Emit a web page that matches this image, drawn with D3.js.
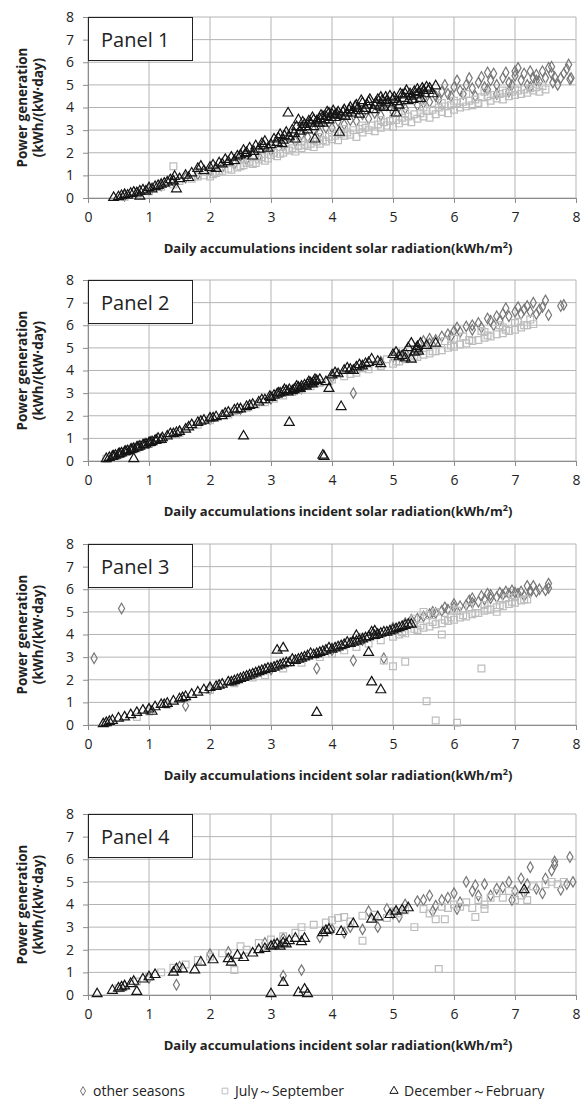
<!DOCTYPE html>
<html>
<head>
<meta charset="utf-8">
<script src="https://cdn.jsdelivr.net/npm/d3@7"></script>
<style>
  body { margin: 0; background: #fff; }
  text { font-family: "Open Sans", "Noto Sans", sans-serif; fill: #222; }
</style>
</head>
<body>
<div id="container"></div>
<script>
// data
const panelNames = ['Panel 1', 'Panel 2', 'Panel 3', 'Panel 4']
const xTicks = [0, 1, 2, 3, 4, 5, 6, 7, 8]
const yTicks = [0, 1, 2, 3, 4, 5, 6, 7, 8]
const seriesNames = ['other seasons', 'July～September', 'December～February']

// panel 1
const p1Other = [[0.6,0.1],[0.8,0.25],[1.0,0.4],[1.2,0.55],[1.4,0.75],[1.6,0.9],[1.8,1.05],[2.0,1.2],[2.2,1.35],[2.4,1.5],[2.6,1.7],[2.8,1.85],[3.0,2.1],[3.2,2.3],[3.4,2.5],[3.6,2.7],[3.8,2.9],[4.0,3.1],[4.2,3.25],[4.4,3.4],[4.6,3.5],[4.8,3.65],[5.0,3.8],[5.2,3.95],[5.4,4.1],[5.5,4.4],[5.6,4.25],[5.7,4.5],[5.8,4.7],[5.9,4.6],[6.0,4.9],[6.05,5.2],[6.1,4.75],[6.2,5.0],[6.25,5.3],[6.3,4.85],[6.4,5.1],[6.45,5.35],[6.5,4.9],[6.6,5.2],[6.65,5.5],[6.7,5.0],[6.8,5.3],[6.85,5.55],[6.9,5.1],[7.0,5.4],[7.05,5.75],[7.1,5.2],[7.15,5.5],[7.2,5.0],[7.25,5.6],[7.3,5.3],[7.35,5.45],[7.4,5.15],[7.45,5.6],[7.5,5.3],[7.55,5.75],[7.6,5.5],[7.62,5.1],[7.7,5.0],[7.75,5.3],[7.85,5.7],[7.88,5.9],[7.9,5.25],[7.92,5.3],[6.9,4.7],[6.7,4.6],[6.35,4.5],[7.25,4.9],[5.3,4.5],[4.9,4.1],[4.5,3.7],[4.1,3.4],[3.7,3.0],[3.3,2.7],[2.9,2.2],[2.5,1.85],
  [3.5,2.8],[3.9,3.1],[4.3,3.45],[4.7,3.75],[5.1,4.05],[5.5,4.2],[5.75,4.35],[5.95,4.5],[6.15,4.6],[6.55,4.8],[6.95,5.0],[7.35,5.2],[7.65,5.35],[7.8,5.5],[5.85,5.0],[6.55,5.55],[7.6,5.8],[7.0,5.6]]
const p1Summer = [[0.6,0.05],[0.8,0.15],[1.0,0.3],[1.2,0.5],[1.4,1.4],[1.4,0.6],[1.5,0.75],[1.7,0.85],[1.9,1.0],[2.0,0.95],[2.1,1.1],[2.2,1.2],[2.3,1.3],[2.5,1.4],[2.6,1.55],[2.7,1.5],[2.8,1.7],[2.9,1.65],[3.0,1.9],[3.1,1.85],[3.2,2.0],[3.3,2.1],[3.4,2.05],[3.5,2.2],[3.6,2.3],[3.7,2.25],[3.8,2.4],[3.9,2.5],[4.0,2.6],[4.1,2.55],[4.2,2.75],[4.3,2.8],[4.4,2.7],[4.5,2.9],[4.6,3.0],[4.7,2.95],[4.8,3.1],[4.9,3.2],[5.0,3.15],[5.1,3.3],[5.2,3.4],[5.3,3.35],[5.4,3.5],[5.5,3.6],[5.6,3.55],[5.7,3.7],[5.8,3.8],[5.9,3.75],[6.0,3.9],[6.1,4.0],[6.2,4.05],[6.3,4.1],[6.4,4.2],[6.5,4.15],[6.6,4.3],[6.7,4.4],[6.8,4.35],[6.9,4.5],[7.0,4.55],[7.1,4.6],[7.2,4.65],[7.3,4.75],[7.4,4.7],[7.5,4.8],[6.2,4.6],[6.5,4.7],[6.8,4.75],[5.5,4.0],[5.0,3.5],[4.5,3.2],[4.0,2.9],[3.5,2.5],[3.0,2.2],[2.5,1.7],[6.0,4.3],[7.0,4.8],[5.8,4.2],
  [1.8,0.95],[2.05,1.05],[2.15,1.2],[2.35,1.25],[2.45,1.35],[2.55,1.45],[2.65,1.6],[2.75,1.55],[2.85,1.8],[2.95,1.75],[3.05,2.0],[3.15,1.95],[3.25,2.15],[3.35,2.2],[3.45,2.3],[3.55,2.35],[3.65,2.4],[3.75,2.5],[3.85,2.55],[3.95,2.7],[4.05,2.75],[4.15,2.85],[4.25,2.9],[4.35,3.0],[4.45,3.05],[4.55,3.1],[4.65,3.2],[4.75,3.25],[4.85,3.35],[4.95,3.4],[5.05,3.45],[5.15,3.55],[5.25,3.6],[5.35,3.7],[5.45,3.75],[5.55,3.85],[5.65,3.9],[5.75,4.0],[5.85,4.05],[5.95,4.1],[6.05,4.2],[6.15,4.25],[6.25,4.3],[6.35,4.35],[6.45,4.45],[6.55,4.5],[6.65,4.55],[6.75,4.6],[6.85,4.65],[6.95,4.7],[7.05,4.75],[7.15,4.8],[7.25,4.85],[7.35,4.9],[7.45,4.95],[4.2,3.05],[4.8,3.45],[5.2,3.75],[3.8,2.7]]
const p1Winter = [[0.42,0.02],[0.5,0.05],[0.55,0.1],[0.6,0.15],[0.65,0.12],[0.7,0.2],[0.75,0.25],[0.8,0.22],[0.85,0.3],[0.85,0.08],[0.9,0.35],[0.95,0.3],[1.0,0.45],[1.05,0.4],[1.1,0.5],[1.15,0.55],[1.2,0.6],[1.25,0.65],[1.3,0.7],[1.35,0.8],[1.4,0.75],[1.42,0.95],[1.45,0.4],[1.5,0.85],[1.6,1.0],[1.65,0.9],[1.7,1.1],[1.8,1.3],[1.85,1.4],[1.9,1.2],[2.0,1.35],[2.05,1.45],[2.1,1.3],[2.2,1.5],[2.25,1.7],[2.3,1.6],[2.35,1.8],[2.4,1.65],[2.5,1.9],[2.55,2.1],[2.6,2.0],[2.65,2.2],[2.7,1.85],[2.75,2.3],[2.8,2.15],[2.85,2.4],[2.9,2.5],[2.95,2.2],[3.05,2.6],[3.1,2.45],[3.15,2.8],[3.2,2.55],[3.25,2.9],[3.28,3.75],[3.3,2.7],[3.35,3.0],[3.4,2.6],[3.45,3.45],[3.5,3.1],[3.55,3.25],[3.6,3.0],[3.65,3.3],[3.7,3.15],[3.72,2.6],[3.75,3.4],[3.8,3.5],[3.85,3.3],[3.9,3.6],[3.95,3.45],[4.0,3.7],[4.05,3.55],[4.1,3.8],[4.12,2.9],[4.15,3.65],[4.2,3.9],[4.25,3.75],[4.3,4.0],[4.35,3.85],[4.4,4.1],[4.45,3.7],[4.5,4.2],[4.55,3.95],[4.6,4.25],[4.7,4.1],[4.75,4.35],[4.8,4.45],[4.85,4.0],[4.9,4.3],[4.95,4.5],[5.0,4.35],[5.05,3.75],[5.1,4.1],[5.15,4.55],[5.2,4.6],[5.25,4.3],[5.3,4.5],[5.35,4.7],[5.4,4.8],[5.45,4.4],[5.5,4.75],[5.55,4.9],[5.6,4.85],[5.65,4.6],[5.7,4.95],[3.85,3.6],[3.95,3.75],[4.05,3.65],[3.7,3.45],
  [2.15,1.55],[2.45,1.85],[2.58,1.95],[2.72,2.05],[2.88,2.3],[3.0,2.35],[3.12,2.65],[3.18,2.4],[3.22,2.75],[3.38,2.85],[3.42,3.15],[3.48,2.95],[3.52,3.35],[3.58,3.15],[3.62,3.4],[3.68,3.55],[3.78,3.3],[3.82,3.65],[3.88,3.45],[3.92,3.8],[3.98,3.55],[4.02,3.85],[4.08,3.7],[4.18,3.8],[4.22,3.6],[4.28,3.9],[4.32,3.75],[4.38,4.05],[4.42,3.95],[4.48,4.3],[4.52,3.85],[4.58,4.1],[4.62,4.35],[4.68,3.9],[4.72,4.2],[4.78,4.05],[4.82,4.3],[4.88,4.45],[4.92,4.2],[4.98,4.0],[5.02,4.45],[5.08,4.25],[5.12,4.6],[5.18,4.4],[5.22,4.75],[5.28,4.6],[5.32,4.35],[5.38,4.55],[5.42,4.65],[5.48,4.85],[5.52,4.6],[5.58,4.75]]

// panel 2
const p2Other = [[4.35,3.0],[4.8,4.4],[5.0,4.6],[5.2,4.8],[5.4,5.0],[5.5,5.3],[5.6,5.4],[5.7,5.35],[5.8,5.5],[5.9,5.6],[6.0,5.75],[6.05,5.9],[6.1,5.7],[6.2,5.95],[6.3,6.0],[6.4,6.1],[6.45,5.9],[6.55,6.3],[6.6,6.2],[6.7,6.4],[6.75,6.2],[6.8,6.5],[6.85,6.75],[6.9,6.4],[7.0,6.6],[7.05,6.8],[7.1,6.5],[7.15,6.7],[7.2,6.85],[7.25,6.6],[7.3,7.0],[7.35,6.5],[7.4,6.7],[7.5,7.1],[7.55,6.45],[7.8,6.9],[7.75,6.85],[7.45,6.8],[6.65,6.0],[6.3,5.8],[5.95,5.5],[5.6,5.2],[5.1,4.7],[4.5,4.2],[4.0,3.7],[3.5,3.2],[3.0,2.75],[2.5,2.3],[2.0,1.85],[1.5,1.3],[1.0,0.8]]
const p2Summer = [[0.3,0.1],[0.5,0.25],[0.8,0.55],[1.0,0.75],[1.2,0.95],[1.5,1.25],[1.8,1.6],[2.0,1.8],[2.3,2.05],[2.6,2.35],[2.9,2.6],[3.2,2.9],[3.5,3.15],[3.8,3.45],[4.0,3.6],[4.2,3.75],[4.4,3.9],[4.6,4.05],[4.8,4.2],[5.0,4.3],[5.1,4.4],[5.2,4.5],[5.3,4.55],[5.4,4.6],[5.5,4.7],[5.6,4.75],[5.7,4.85],[5.8,4.9],[5.9,5.0],[6.0,5.05],[6.1,5.15],[6.2,5.2],[6.3,5.3],[6.4,5.35],[6.5,5.45],[6.6,5.5],[6.7,5.6],[6.8,5.65],[6.9,5.75],[7.0,5.8],[7.1,5.9],[7.2,6.0],[7.3,6.05],[6.0,5.4],[6.5,5.7],[7.0,6.1],[5.5,5.0],[6.8,5.9],[7.25,6.25],[4.5,4.1],
  [2.4,2.2],[2.75,2.5],[3.05,2.75],[3.35,3.05],[3.65,3.3],[3.95,3.55],[4.3,3.85],[4.7,4.15],[5.05,4.4],[5.35,4.65],[5.65,4.85],[5.95,5.1],[6.25,5.35],[6.55,5.55],[6.85,5.8],[7.15,6.0],[6.15,5.5],[6.45,5.75],[6.75,6.0],[7.05,6.15],[5.85,5.3],[5.25,4.9],[4.9,4.5]]
const p2Winter = [[0.3,0.1],[0.35,0.15],[0.4,0.2],[0.45,0.25],[0.5,0.3],[0.55,0.35],[0.6,0.4],[0.65,0.45],[0.7,0.5],[0.75,0.1],[0.75,0.55],[0.8,0.6],[0.85,0.65],[0.9,0.7],[0.95,0.75],[1.0,0.8],[1.05,0.85],[1.1,0.9],[1.15,1.0],[1.2,0.95],[1.3,1.1],[1.4,1.2],[1.5,1.3],[1.6,1.4],[1.7,1.6],[1.8,1.7],[1.9,1.8],[2.0,1.9],[2.1,1.95],[2.2,2.0],[2.3,2.15],[2.4,2.25],[2.5,2.3],[2.55,1.1],[2.6,2.4],[2.7,2.5],[2.8,2.6],[2.9,2.7],[3.0,2.8],[3.05,2.9],[3.1,2.95],[3.15,3.0],[3.2,3.05],[3.25,3.1],[3.3,1.7],[3.3,3.15],[3.35,3.1],[3.4,3.2],[3.45,3.25],[3.5,3.3],[3.55,3.35],[3.6,3.4],[3.65,3.45],[3.7,3.5],[3.75,3.55],[3.8,3.6],[3.85,0.25],[3.87,0.2],[3.9,3.5],[3.95,3.2],[4.0,3.8],[4.05,3.9],[4.1,3.85],[4.15,2.4],[4.2,4.0],[4.3,4.05],[4.4,4.15],[4.5,4.2],[4.6,4.35],[4.65,4.5],[4.75,4.4],[4.8,4.3],[5.0,4.7],[5.05,4.8],[5.1,4.6],[5.2,4.55],[5.3,4.5],[5.35,4.8],[5.4,5.05],[5.45,5.2],[5.55,5.1],[5.7,5.2],[5.3,5.2],
  [0.42,0.22],[0.52,0.32],[0.62,0.42],[0.72,0.52],[0.82,0.62],[0.92,0.72],[1.02,0.82],[1.12,0.92],[1.22,1.02],[3.28,3.05],[3.38,3.15],[3.48,3.2],[3.58,3.3],[3.68,3.4],[3.72,3.6],[3.62,3.5],[3.42,3.3],[3.22,3.15],[3.12,3.0],[2.98,2.85],[2.85,2.7],[2.65,2.45],[2.45,2.3],[2.25,2.1],[2.05,1.9],[1.85,1.75],[1.65,1.5],[1.45,1.25],[1.35,1.2],[4.45,4.25],[4.55,4.3],[4.25,4.1],[4.35,4.0],[5.15,4.65],[5.25,5.0],[5.38,4.95],[5.42,4.85]]

// panel 3
const p3Other = [[0.1,2.95],[0.55,5.15],[1.6,0.85],[3.75,2.5],[4.35,2.85],[4.85,2.95],[5.0,4.3],[5.2,4.5],[5.4,4.7],[5.5,4.8],[5.6,4.9],[5.7,4.95],[5.8,5.05],[5.9,5.1],[6.0,5.2],[6.1,5.25],[6.2,5.3],[6.3,5.4],[6.4,5.45],[6.5,5.55],[6.55,5.8],[6.6,5.6],[6.7,5.65],[6.8,5.75],[6.85,5.9],[6.9,5.8],[7.0,5.85],[7.1,5.9],[7.15,5.7],[7.2,6.15],[7.25,5.95],[7.3,6.15],[7.35,5.9],[7.55,6.25],[7.55,6.05],[5.3,4.65],[6.25,5.5],[4.5,3.75],[4.0,3.3],[3.0,2.45],[2.0,1.6],[1.0,0.7],
  [6.0,5.35],[6.3,5.6],[6.6,5.75],[6.95,5.95],[7.05,5.8],[7.25,5.85],[5.65,5.0],[5.85,5.2],[6.45,5.7],[6.75,5.85],[7.4,6.0],[7.5,5.95]]
const p3Summer = [[0.3,0.1],[0.8,0.35],[1.0,0.6],[1.3,0.9],[1.6,1.15],[2.0,1.55],[2.4,1.85],[2.7,2.1],[2.9,2.2],[3.2,2.5],[3.5,2.75],[3.8,3.0],[4.0,3.15],[4.2,3.3],[4.4,3.45],[4.6,3.6],[4.8,3.75],[4.85,2.85],[5.0,2.6],[5.0,3.9],[5.1,4.0],[5.2,2.8],[5.2,4.05],[5.3,4.15],[5.4,4.2],[5.5,4.3],[5.55,1.05],[5.6,4.35],[5.7,0.2],[5.7,4.45],[5.8,4.0],[5.8,4.5],[5.9,4.6],[6.0,4.65],[6.05,0.1],[6.1,4.75],[6.2,4.8],[6.3,4.9],[6.4,4.95],[6.45,2.5],[6.5,5.05],[6.6,5.1],[6.7,5.2],[6.8,5.25],[6.9,5.35],[7.0,5.4],[7.1,5.5],[7.2,5.55],[5.5,5.0],[5.7,5.0],[6.0,5.1],[6.5,5.3],[7.0,5.65],[6.7,5.0],[4.5,3.9],[5.0,4.25],
  [5.15,4.1],[5.35,4.25],[5.45,4.4],[5.65,4.55],[5.85,4.65],[5.95,4.75],[6.15,4.85],[6.35,4.95],[6.55,5.1],[6.75,5.3],[6.95,5.45],[7.15,5.55],[5.35,4.7],[5.55,4.85],[6.05,5.05],[6.25,5.2],[6.85,5.6],[4.3,3.6],[4.7,3.95]]
const p3Winter = [[0.25,0.05],[0.3,0.1],[0.35,0.15],[0.4,0.2],[0.5,0.3],[0.6,0.35],[0.7,0.45],[0.8,0.55],[0.9,0.65],[1.0,0.7],[1.05,0.6],[1.1,0.8],[1.2,0.9],[1.3,0.95],[1.4,1.05],[1.5,1.15],[1.6,1.25],[1.7,1.35],[1.8,1.45],[1.9,1.55],[2.0,1.65],[2.1,1.7],[2.2,1.8],[2.3,1.9],[2.4,1.95],[2.5,2.05],[2.6,2.15],[2.7,2.25],[2.8,2.35],[2.9,2.45],[3.0,2.5],[3.1,2.6],[3.1,3.3],[3.2,3.4],[3.2,2.7],[3.3,2.75],[3.4,2.85],[3.5,2.95],[3.6,3.05],[3.7,3.1],[3.75,0.55],[3.8,3.2],[3.9,3.3],[4.0,3.35],[4.1,3.45],[4.2,3.55],[4.3,3.6],[4.4,3.7],[4.5,3.8],[4.55,3.85],[4.6,3.2],[4.65,1.9],[4.65,4.1],[4.7,3.95],[4.8,1.55],[4.8,4.05],[4.9,4.1],[5.0,4.2],[5.1,4.3],[5.2,4.4],[5.3,4.45],[3.35,2.9],[3.65,3.15],[3.95,3.4],[4.25,3.65],[2.75,2.3],[2.45,2.0],[1.55,1.2],[1.25,0.9],
  [2.15,1.75],[2.35,1.9],[2.55,2.1],[2.65,2.2],[2.85,2.4],[2.95,2.5],[3.05,2.55],[3.15,2.65],[3.25,2.75],[3.45,2.9],[3.55,3.0],[3.75,3.15],[3.85,3.25],[4.05,3.4],[4.15,3.5],[4.35,3.65],[4.45,3.75],[4.75,4.0],[4.85,4.1],[4.95,4.15],[5.05,4.25],[5.15,4.35],[5.25,4.45],[4.6,3.9],[4.4,3.95],[4.7,4.15]]

// panel 4
const p4Other = [[1.45,0.45],[3.2,0.85],[3.5,1.1],[0.6,0.4],[1.0,0.75],[1.5,1.25],[2.0,1.8],[2.3,1.9],[2.9,2.3],[3.2,2.5],[3.8,2.55],[4.0,2.9],[4.2,2.75],[4.3,3.0],[4.5,2.9],[4.6,3.7],[4.75,3.0],[4.9,3.8],[5.0,3.6],[5.2,4.0],[5.4,4.15],[5.5,4.2],[5.6,4.4],[5.7,3.95],[5.8,4.2],[5.9,4.3],[6.0,4.5],[6.05,3.8],[6.1,4.1],[6.2,5.0],[6.3,4.6],[6.35,4.85],[6.4,4.4],[6.5,4.9],[6.6,4.4],[6.7,4.7],[6.8,4.75],[6.9,5.0],[7.0,4.6],[7.1,5.15],[7.15,4.5],[7.2,4.9],[7.25,5.65],[7.35,4.7],[7.45,4.5],[7.5,5.15],[7.6,5.5],[7.65,5.9],[7.65,5.75],[7.75,4.65],[7.85,4.9],[7.9,6.1],[7.95,5.0],[6.95,4.2],[5.65,3.7],[5.1,3.45]]
const p4Summer = [[0.5,0.3],[0.8,0.6],[1.0,0.8],[1.2,1.0],[1.4,1.2],[1.6,1.35],[1.8,1.55],[2.0,1.7],[2.2,1.85],[2.4,1.1],[2.5,2.15],[2.6,2.0],[2.8,2.3],[3.0,2.45],[3.2,2.6],[3.4,2.75],[3.5,3.0],[3.7,3.1],[3.9,3.2],[4.0,3.3],[4.2,3.45],[4.3,3.25],[4.5,2.4],[4.5,3.5],[4.7,3.55],[4.9,3.4],[5.0,3.7],[5.1,3.6],[5.35,3.0],[5.5,3.8],[5.6,3.6],[5.7,3.35],[5.75,1.15],[5.85,3.35],[5.9,3.85],[6.0,4.0],[6.1,3.9],[6.2,4.1],[6.3,3.85],[6.35,3.45],[6.4,4.2],[6.5,4.0],[6.6,4.3],[6.7,4.5],[6.8,4.3],[6.9,4.6],[7.0,4.2],[7.1,4.4],[7.2,4.2],[7.3,4.8],[7.5,4.9],[7.6,5.0],[7.8,5.0],[7.7,4.9],[6.5,3.8],[5.8,3.9],[5.2,3.75],[4.1,3.4]]
const p4Winter = [[0.15,0.05],[0.4,0.2],[0.5,0.3],[0.55,0.35],[0.6,0.4],[0.7,0.5],[0.75,0.6],[0.8,0.15],[0.9,0.7],[1.0,0.8],[1.1,0.9],[1.4,1.0],[1.45,1.15],[1.55,1.15],[1.75,1.1],[1.85,1.45],[2.05,1.55],[2.3,1.6],[2.35,1.45],[2.45,1.75],[2.55,1.65],[2.7,1.85],[2.8,2.0],[2.9,2.05],[3.0,2.15],[3.05,2.2],[3.1,2.25],[3.15,2.15],[3.2,2.3],[3.25,2.25],[3.3,2.4],[3.4,2.5],[3.5,2.35],[3.55,2.5],[3.85,2.75],[3.9,2.85],[3.95,2.9],[4.15,2.8],[4.35,3.15],[4.65,3.35],[4.75,3.45],[4.95,3.55],[5.05,3.7],[5.15,3.75],[5.25,3.85],[7.15,4.65],[3.0,0.05],[3.2,0.55],[3.45,0.1],[3.55,0.25],[3.6,0.05]]

const panels = [
  [p1Other, p1Summer, p1Winter],
  [p2Other, p2Summer, p2Winter],
  [p3Other, p3Summer, p3Winter],
  [p4Other, p4Summer, p4Winter]
]

//layout
const width = 584
const height = 1099
const left = 88
const right = 576
const plotHeight = 181
const panelTops = [17, 280, 544, 814]

const seriesStyle = [
  { type: d3.symbolDiamond, size: 32, color: '#777777' },
  { type: d3.symbolSquare, size: 46, color: '#bdbdbd' },
  { type: d3.symbolTriangle, size: 42, color: '#141414' }
]

const svg = d3.select('#container')
  .append('svg')
  .attr('width', width)
  .attr('height', height)

const xScale = d3.scaleLinear().domain([0, 8]).range([left, right])

panels.forEach((series, p) => {
  const top = panelTops[p]
  const bottom = top + plotHeight
  const yScale = d3.scaleLinear().domain([0, 8]).range([bottom, top])
  const g = svg.append('g').attr('class', 'panel')

  // grid lines
  g.append('g')
    .selectAll('line')
    .data(xTicks)
    .enter()
    .append('line')
    .attr('x1', (d) => xScale(d)).attr('x2', (d) => xScale(d))
    .attr('y1', top).attr('y2', bottom)
    .attr('stroke', '#b4b4b4')

  g.append('g')
    .selectAll('line')
    .data(yTicks)
    .enter()
    .append('line')
    .attr('x1', left).attr('x2', right)
    .attr('y1', (d) => yScale(d)).attr('y2', (d) => yScale(d))
    .attr('stroke', '#b4b4b4')

  // axes
  const xAxis = g.append('g')
    .attr('transform', `translate(0, ${bottom})`)
    .call(d3.axisBottom(xScale).tickValues(xTicks).tickSize(5).tickPadding(9))
  const yAxis = g.append('g')
    .attr('transform', `translate(${left}, 0)`)
    .call(d3.axisLeft(yScale).tickValues(yTicks).tickSize(5).tickPadding(9))

  ;[xAxis, yAxis].forEach((a) => {
    a.select('.domain').attr('stroke', '#8c8c8c')
    a.selectAll('.tick line').attr('stroke', '#8c8c8c')
    a.selectAll('.tick text')
      .style('font-family', '"Open Sans", sans-serif')
      .style('font-size', '14px')
      .attr('fill', '#222')
  })

  // points
  series.forEach((pts, s) => {
    const st = seriesStyle[s]
    const sym = d3.symbol().type(st.type).size(st.size)
    g.append('g')
      .selectAll('path')
      .data(pts)
      .enter()
      .append('path')
      .attr('d', sym)
      .attr('transform', (d) => `translate(${xScale(d[0])}, ${yScale(d[1])})`)
      .attr('fill', 'none')
      .attr('stroke', st.color)
      .attr('stroke-width', 1.2)
  })

  // panel label box
  g.append('rect')
    .attr('x', left + 0.5)
    .attr('y', top + 0.5)
    .attr('width', 104)
    .attr('height', 43)
    .attr('fill', '#fff')
    .attr('stroke', '#222')
  g.append('text')
    .attr('x', left + 13)
    .attr('y', top + 30)
    .style('font-size', '20px')
    .text(panelNames[p])

  // axis titles
  g.append('text')
    .attr('x', (left + right) / 2 + 6)
    .attr('y', bottom + 55)
    .attr('text-anchor', 'middle')
    .style('font-size', '13px')
    .style('font-weight', 'bold')
    .html('Daily accumulations incident solar radiation(kWh/m<tspan dy="-5" font-size="9px">2</tspan><tspan dy="5">)</tspan>')

  const yt = g.append('text')
    .attr('transform', `translate(0, ${(top + bottom) / 2}) rotate(-90)`)
    .attr('text-anchor', 'middle')
    .style('font-size', '13.5px')
    .style('font-weight', 'bold')
  yt.append('tspan').attr('x', 0).attr('y', 27).text('Power generation')
  yt.append('tspan').attr('x', 0).attr('y', 43).text('(kWh/(kW·day)')
})

// legend
const legendX = [83, 225, 394]
const legend = svg.append('g').attr('class', 'legend')
seriesNames.forEach((name, s) => {
  const st = seriesStyle[s]
  legend.append('path')
    .attr('d', d3.symbol().type(st.type).size(st.size * 0.7))
    .attr('transform', `translate(${legendX[s]}, 1091)`)
    .attr('fill', 'none')
    .attr('stroke', st.color)
  legend.append('text')
    .attr('x', legendX[s] + 10)
    .attr('y', 1096)
    .style('font-size', '14px')
    .text(name)
})
</script>
</body>
</html>
